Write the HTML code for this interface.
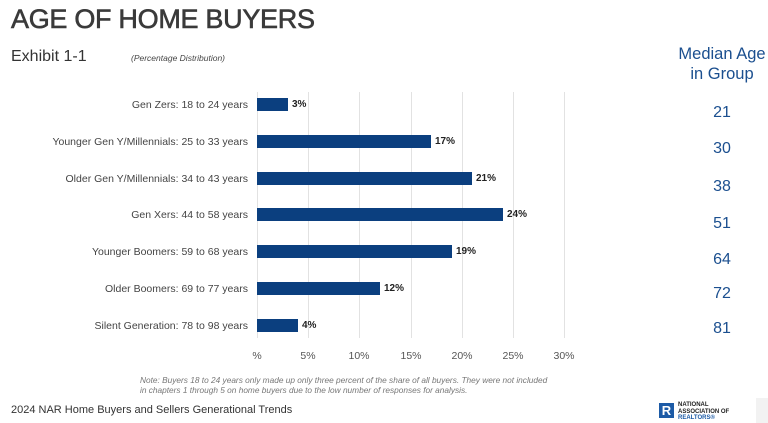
<!DOCTYPE html>
<html><head><meta charset="utf-8"><style>
body{margin:0;width:768px;height:423px;background:#fff;font-family:"Liberation Sans",sans-serif;position:relative;overflow:hidden}
.a{position:absolute;white-space:nowrap}
.lab{font-size:10.5px;color:#444;text-align:right;right:520px}
.bar{position:absolute;left:257px;height:13px;background:#0b3f7f}
.pct{font-size:10px;color:#222;font-weight:bold}
.tick{font-size:10.5px;color:#555;transform:translateX(-50%)}
.grid{position:absolute;top:92px;height:246px;width:1px;background:#e2e2e2}
.med{font-size:16px;color:#1b4f8f;transform:translateX(-50%);left:722px}
</style></head><body>
<div class="a" style="left:11px;top:4px;font-size:27px;color:#3a3a3a;letter-spacing:-0.3px;-webkit-text-stroke:0.6px #3a3a3a">AGE OF HOME BUYERS</div>
<div class="a" style="left:11px;top:48px;font-size:16px;color:#333">Exhibit 1-1</div>
<div class="a" style="left:131px;top:53px;font-size:8.5px;font-style:italic;color:#444">(Percentage Distribution)</div>
<div class="a" style="left:722px;top:44px;font-size:16.5px;color:#1b4f8f;transform:translateX(-50%);text-align:center;line-height:20px">Median Age<br>in Group</div>
<div class="grid" style="left:257px"></div><div class="grid" style="left:308px"></div><div class="grid" style="left:359px"></div><div class="grid" style="left:411px"></div><div class="grid" style="left:462px"></div><div class="grid" style="left:513px"></div><div class="grid" style="left:564px"></div>

<div class="a lab" style="top:99px">Gen Zers: 18 to 24 years</div>
<div class="bar" style="top:98px;width:31px"></div><div class="a pct" style="left:292px;top:99px">3%</div>
<div class="a lab" style="top:136px">Younger Gen Y/Millennials: 25 to 33 years</div>
<div class="bar" style="top:135px;width:174px"></div><div class="a pct" style="left:435px;top:136px">17%</div>
<div class="a lab" style="top:173px">Older Gen Y/Millennials: 34 to 43 years</div>
<div class="bar" style="top:172px;width:215px"></div><div class="a pct" style="left:476px;top:173px">21%</div>
<div class="a lab" style="top:209px">Gen Xers: 44 to 58 years</div>
<div class="bar" style="top:208px;width:246px"></div><div class="a pct" style="left:507px;top:209px">24%</div>
<div class="a lab" style="top:246px">Younger Boomers: 59 to 68 years</div>
<div class="bar" style="top:245px;width:195px"></div><div class="a pct" style="left:456px;top:246px">19%</div>
<div class="a lab" style="top:283px">Older Boomers: 69 to 77 years</div>
<div class="bar" style="top:282px;width:123px"></div><div class="a pct" style="left:384px;top:283px">12%</div>
<div class="a lab" style="top:320px">Silent Generation: 78 to 98 years</div>
<div class="bar" style="top:319px;width:41px"></div><div class="a pct" style="left:302px;top:320px">4%</div>

<div class="a tick" style="left:257px;top:350px">%</div>
<div class="a tick" style="left:308px;top:350px">5%</div>
<div class="a tick" style="left:359px;top:350px">10%</div>
<div class="a tick" style="left:411px;top:350px">15%</div>
<div class="a tick" style="left:462px;top:350px">20%</div>
<div class="a tick" style="left:513px;top:350px">25%</div>
<div class="a tick" style="left:564px;top:350px">30%</div>

<div class="a med" style="top:104px">21</div>
<div class="a med" style="top:140px">30</div>
<div class="a med" style="top:178px">38</div>
<div class="a med" style="top:215px">51</div>
<div class="a med" style="top:251px">64</div>
<div class="a med" style="top:285px">72</div>
<div class="a med" style="top:320px">81</div>

<div class="a" style="left:140px;top:375px;font-size:8.3px;font-style:italic;color:#777;line-height:10px">Note: Buyers 18 to 24 years only made up only three percent of the share of all buyers. They were not included<br>in chapters 1 through 5 on home buyers due to the low number of responses for analysis.</div>
<div class="a" style="left:11px;top:404px;font-size:11px;color:#333">2024 NAR Home Buyers and Sellers Generational Trends</div>
<div class="a" style="left:659px;top:403px;width:15px;height:15px;background:#1d5ba6;color:#fff;font-weight:bold;font-size:13px;text-align:center;line-height:15px">R</div>
<div class="a" style="left:678px;top:402px;font-size:6px;font-weight:bold;color:#222;line-height:6.5px">NATIONAL<br>ASSOCIATION OF<br><span style="color:#1d5ba6">REALTORS®</span></div>
<div class="a" style="left:756px;top:398px;width:12px;height:25px;background:#f2f2f2"></div>
</body></html>
